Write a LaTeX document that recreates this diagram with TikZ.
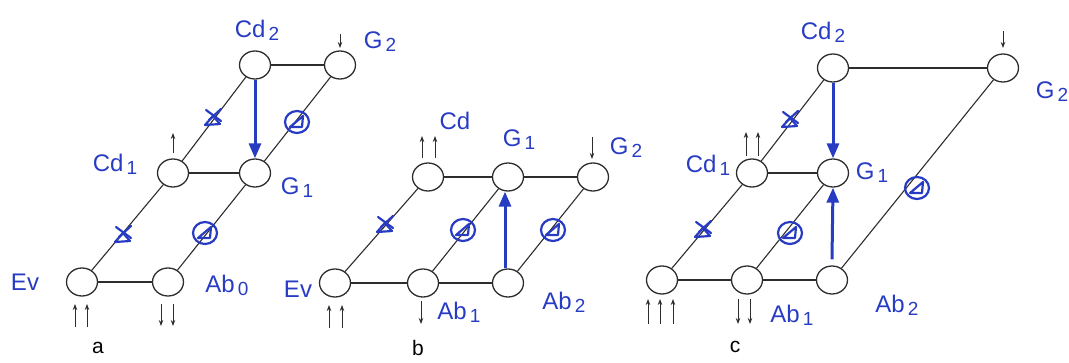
\documentclass[tikz,border=0pt]{standalone}
\usepackage{fontspec}
\setsansfont{Liberation Sans}
\usetikzlibrary{shapes.geometric,arrows.meta}
\definecolor{ink}{RGB}{40,60,195}
\definecolor{pen}{RGB}{45,45,45}
\newcommand\lowdig[1]{\raisebox{-3pt}{\fontsize{19}{19}\selectfont\,#1}}
\tikzset{
  st/.style={ellipse,draw=pen,line width=1.3pt,fill=white,minimum width=31pt,minimum height=28pt,inner sep=0pt},
  edge/.style={draw=pen,line width=1.1pt},
  lab/.style={text=ink,font=\sffamily\fontsize{24}{24}\selectfont,inner sep=0pt},
  captxt/.style={text=black,font=\sffamily\fontsize{21}{21}\selectfont,inner sep=0pt},
  tick/.style={draw=pen,line width=1pt,-{Stealth[length=6pt,width=4.5pt]}},
  big/.style={draw=ink,line width=3pt,-{Triangle[length=15pt,width=12pt]}},
  pics/xtri/.style={code={
    \draw[ink,line width=2.2pt,line join=round] (-8,7) -- (7,6) -- (0,-2) -- cycle;
    \draw[ink,line width=2.2pt,line cap=round] (-7,-8) -- (8,3) (8,-9) -- (-4,2);
  }},
  pics/otri/.style={code={
    \draw[ink,line width=2.2pt] (0,0) ellipse (12 and 11);
    \draw[ink,line width=2.2pt,line join=round] (-7,5) -- (6,-6) -- (5,5) -- cycle;
  }}
}
\begin{document}
\begin{tikzpicture}[x=1pt,y=-1pt]
\useasboundingbox (0,0) rectangle (1069,362);
% ---------------- a ----------------
\node[st] (aEv) at (82,282) {};
\node[st] (aAl) at (168,282) {};
\node[st] (aCd1) at (173,173) {};
\node[st] (aG1) at (255,173) {};
\node[st] (aCd2) at (255,65) {};
\node[st] (aG2) at (340,65) {};
\draw[edge] (aEv) -- (aAl);
\draw[edge] (aCd1) -- (aG1);
\draw[edge] (aCd2) -- (aG2);
\draw[edge] (aEv) -- (aCd1);
\draw[edge] (aCd1) -- (aCd2);
\draw[edge] (aAl) -- (aG1);
\draw[edge] (aG1) -- (aG2);
\draw[big] (aCd2.south) -- (aG1.north);
\pic at (123,235) {xtri};
\pic at (213,118) {xtri};
\pic at (205,233) {otri};
\pic at (297,122) {otri};
\node[lab] (aLCd2) at (257,30) {Cd\lowdig{2}};
\node[lab] (aLG2) at (380,42) {G\lowdig{2}};
\node[lab] (aLCd1) at (115,164) {Cd\lowdig{1}};
\node[lab] (aLG1) at (297,188) {G\lowdig{1}};
\node[lab] (aLEv) at (25,282) {Ev};
\node[lab] (aLAl) at (227,285) {Ab\lowdig{0}};
\node[captxt] (capa) at (98,348) {a};
\draw[tick] (340,34) -- (340,48);
\draw[tick] (173,153) -- (173,133);
\draw[tick] (75,327) -- (75,304);
\draw[tick] (87,327) -- (87,304);
\draw[tick] (161,304) -- (161,326);
\draw[tick] (173,304) -- (173,326);
% ---------------- b ----------------
\node[st] (bEv) at (335,283) {};
\node[st] (bAl1) at (423,283) {};
\node[st] (bAl2) at (508,283) {};
\node[st] (bCd) at (428,177) {};
\node[st] (bG1) at (508,177) {};
\node[st] (bG2) at (593,177) {};
\draw[edge] (bEv) -- (bAl1);
\draw[edge] (bAl1) -- (bAl2);
\draw[edge] (bCd) -- (bG1);
\draw[edge] (bG1) -- (bG2);
\draw[edge] (bEv) -- (bCd);
\draw[edge] (bAl1) -- (bG1);
\draw[edge] (bAl2) -- (bG2);
\draw[big] ([xshift=-3pt]bAl2.north) -- ([xshift=-3pt]bG1.south);
\pic at (385,225) {xtri};
\pic at (463,230) {otri};
\pic at (553,230) {otri};
\node[lab] (bLCd) at (455,121) {Cd};
\node[lab] (bLG1) at (519,140) {G\lowdig{1}};
\node[lab] (bLG2) at (626,148) {G\lowdig{2}};
\node[lab] (bLEv) at (298,289) {Ev};
\node[lab] (bLAl1) at (459,312) {Ab\lowdig{1}};
\node[lab] (bLAl2) at (564,302) {Ab\lowdig{2}};
\node[captxt] (capb) at (418,348) {b};
\draw[tick] (422,158) -- (422,136);
\draw[tick] (435,158) -- (435,136);
\draw[tick] (592,137) -- (592,159);
\draw[tick] (329,328) -- (329,305);
\draw[tick] (342,328) -- (342,305);
\draw[tick] (421,301) -- (421,324);
% ---------------- c ----------------
\node[st] (cCd2) at (833,68) {};
\node[st] (cG2) at (1003,68) {};
\node[st] (cCd1) at (752,173) {};
\node[st] (cG1) at (833,173) {};
\node[st] (cEv) at (662,280) {};
\node[st] (cAl1) at (747,280) {};
\node[st] (cAl2) at (832,280) {};
\draw[edge] (cEv) -- (cAl1);
\draw[edge] (cAl1) -- (cAl2);
\draw[edge] (cCd1) -- (cG1);
\draw[edge] (cCd2) -- (cG2);
\draw[edge] (cEv) -- (cCd1);
\draw[edge] (cCd1) -- (cCd2);
\draw[edge] (cAl1) -- (cG1);
\draw[edge] (cAl2) -- (cG2);
\draw[big] (cCd2.south) -- (cG1.north);
\draw[big] ([yshift=6pt]cAl2.north) -- (cG1.south);
\pic at (790,120) {xtri};
\pic at (703,230) {xtri};
\pic at (790,233) {otri};
\pic at (917,188) {otri};
\node[lab] (cLCd2) at (823,32) {Cd\lowdig{2}};
\node[lab] (cLG2) at (1052,92) {G\lowdig{2}};
\node[lab] (cLCd1) at (708,165) {Cd\lowdig{1}};
\node[lab] (cLG1) at (872,173) {G\lowdig{1}};
\node[lab] (cLAl1) at (792,315) {Ab\lowdig{1}};
\node[lab] (cLAl2) at (897,305) {Ab\lowdig{2}};
\node[captxt] (capc) at (735,347) {c};
\draw[tick] (1003,31) -- (1003,48);
\draw[tick] (746,156) -- (746,132);
\draw[tick] (758,156) -- (758,132);
\draw[tick] (648,324) -- (648,299);
\draw[tick] (660,324) -- (660,299);
\draw[tick] (673,324) -- (673,299);
\draw[tick] (738,299) -- (738,324);
\draw[tick] (750,299) -- (750,324);
\end{tikzpicture}
\end{document}
